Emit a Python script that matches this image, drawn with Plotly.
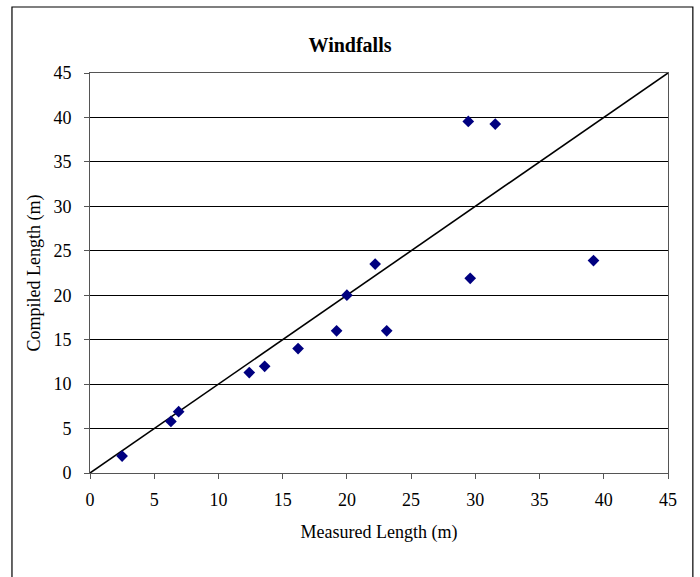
import plotly.graph_objects as go

measured = [2.5, 6.3, 6.9, 12.4, 13.6, 16.2, 19.2, 20.0, 22.2, 23.1, 29.45, 31.55, 29.6, 39.2]
compiled = [1.9, 5.8, 6.9, 11.3, 12.0, 14.0, 16.0, 20.0, 23.5, 16.0, 39.55, 39.25, 21.9, 23.9]
line_x = [0, 45]
line_y = [0, 45]
tick_vals = [0, 5, 10, 15, 20, 25, 30, 35, 40, 45]

FONT = "Liberation Serif"

fig = go.Figure()
fig.add_trace(go.Scatter(x=line_x, y=line_y, mode="lines",
                         line=dict(color="black", width=1.6), showlegend=False, hoverinfo="skip"))
fig.add_trace(go.Scatter(x=measured, y=compiled, mode="markers",
                         marker=dict(symbol="diamond", size=9, color="#000080",
                                     line=dict(width=0)),
                         showlegend=False))

axis_common = dict(
    range=[0, 45], tickvals=tick_vals, ticks="outside", ticklen=5, tickcolor="#555",
    showline=True, linecolor="#555", linewidth=1, mirror=True,
    tickfont=dict(family=FONT, size=18, color="black"), zeroline=False,
)
fig.update_xaxes(**axis_common, showgrid=False, ticklabelstandoff=5,
                 title=dict(text="Measured Length (m)", font=dict(family=FONT, size=18, color="black"), standoff=16))
fig.update_yaxes(**axis_common, showgrid=True, gridcolor="black", gridwidth=1, ticklabelstandoff=9,
                 title=dict(text="Compiled Length (m)", font=dict(family=FONT, size=18, color="black"), standoff=8))

fig.add_shape(type="rect", xref="paper", yref="paper", x0=-0.135, x1=1.043, y0=-0.4, y1=1.165,
              line=dict(color="black", width=1.2), fillcolor="rgba(0,0,0,0)", layer="above")

fig.update_layout(
    width=700, height=577,
    margin=dict(l=90, r=32, t=73, b=104),
    paper_bgcolor="white", plot_bgcolor="white",
    title=dict(text="<b>Windfalls</b>", x=(350 / 700), xanchor="center", y=1 - 45 / 577, yanchor="middle",
               font=dict(family=FONT, size=20, color="black")),
    font=dict(family=FONT, color="black"),
)

fig.write_html("out.html", config={"displayModeBar": False},
               post_script="document.body.style.margin='0';")
